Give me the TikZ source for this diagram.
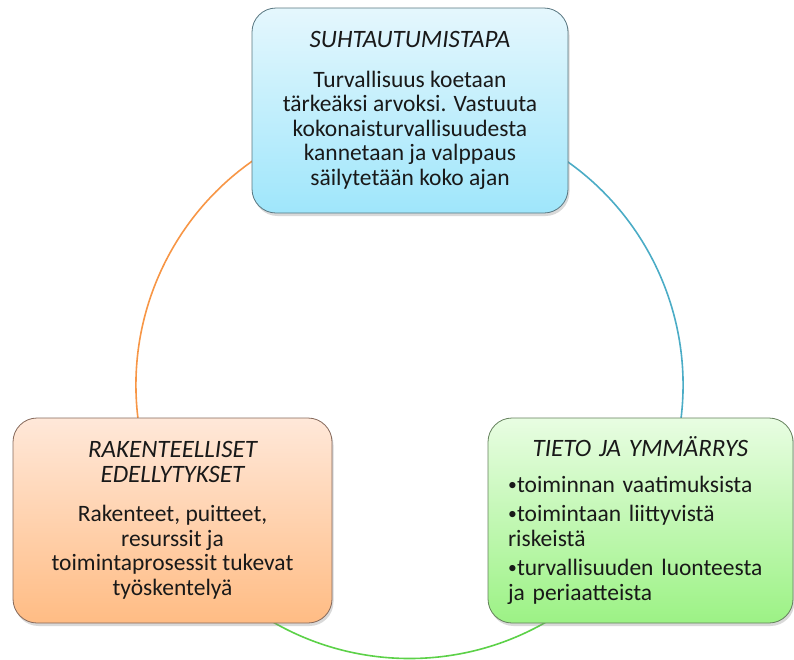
\documentclass[tikz,border=0pt]{standalone}
\usepackage{fontspec}
\setmainfont{Carlito}
\usetikzlibrary{shadows}
\definecolor{oranssi}{HTML}{F79646}
\definecolor{sininen}{HTML}{4BACC6}
\definecolor{vihrea}{HTML}{5CD148}
\definecolor{sinireuna}{HTML}{587680}
\definecolor{oranssireuna}{HTML}{85685A}
\definecolor{vihreareuna}{HTML}{64805C}
\newcommand{\otsikko}[1]{{\fontsize{25}{25}\selectfont\itshape #1}}
\newcommand{\kohta}[1]{\par\hangindent=9pt\hangafter=1\noindent\makebox[9pt][l]{\raisebox{2pt}{\scalebox{0.75}{\textbullet}}}#1}

\begin{document}
\begin{tikzpicture}[x=1pt, y=1pt,
    laatikko/.style={line width=0.8pt, rounded corners=24pt, minimum height=205pt,
        drop shadow={shadow xshift=1.5pt, shadow yshift=-3pt, opacity=0.3},
        font=\fontsize{23.5}{24.5}\selectfont, text=black!90},
    kaari/.style={line width=1.6pt}]
    \useasboundingbox (0, 0) rectangle (794, -659);
    \coordinate (keski) at (409.5, -385);
    \draw[kaari, oranssi] ([shift={(110:273.5pt)}]keski) arc[start angle=110, end angle=200, radius=273.5pt];
    \draw[kaari, sininen] ([shift={(70:273.5pt)}]keski) arc[start angle=70, end angle=-20, radius=273.5pt];
    \draw[kaari, vihrea] ([shift={(225:273.5pt)}]keski) arc[start angle=225, end angle=315, radius=273.5pt];
    \node[laatikko, draw=sinireuna, top color={rgb,255:red,229;green,247;blue,253}, bottom color={rgb,255:red,159;green,230;blue,251},
        minimum width=316pt, align=center] (asenne) at (410, -110.5)
        {\otsikko{SUHTAUTUMISTAPA}\\[15pt]
         Turvallisuus koetaan\\ tärkeäksi arvoksi. Vastuuta\\ kokonaisturvallisuudesta\\
         kannetaan ja valppaus\\ säilytetään koko ajan};
    \node[laatikko, draw=oranssireuna, top color={rgb,255:red,255;green,232;blue,217}, bottom color={rgb,255:red,255;green,188;blue,132},
        minimum width=319pt, align=center] (rakenne) at (172.5, -520.5)
        {\otsikko{RAKENTEELLISET}\\ \otsikko{EDELLYTYKSET}\\[15pt]
         Rakenteet, puitteet,\\ resurssit ja\\ toimintaprosessit tukevat\\ työskentelyä};
    \node[laatikko, draw=vihreareuna, top color={rgb,255:red,232;green,253;blue,226}, bottom color={rgb,255:red,156;green,242;blue,133},
        minimum width=305pt, text width=265pt] (tieto) at (640.5, -520.5)
        {\setlength{\parskip}{5pt}{\centering\otsikko{TIETO JA YMMÄRRYS}\par}\vspace{6pt}\raggedright
         \kohta{toiminnan vaatimuksista}
         \kohta{toimintaan liittyvistä\\ riskeistä}
         \kohta{turvallisuuden luonteesta\\ ja periaatteista}};
\end{tikzpicture}
\end{document}
